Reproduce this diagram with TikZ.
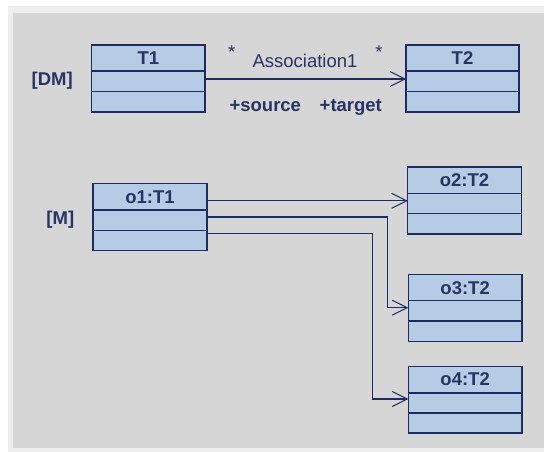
\documentclass[tikz,border=0pt]{standalone}
\usepackage{fontspec}
\setmainfont{Liberation Sans}
\usetikzlibrary{arrows.meta,fit}
\definecolor{navy}{HTML}{1E2B63}
\definecolor{txt}{HTML}{283366}
\definecolor{cellfill}{HTML}{B6CBE4}
\definecolor{panel}{HTML}{D6D6D6}
\definecolor{framecol}{HTML}{EEEEEE}
\tikzset{
  cls/.style={draw=navy, fill=cellfill, line width=1.4pt, inner sep=0pt, outer sep=0pt},
  divider/.style={draw=navy, line width=1.4pt},
  lbl/.style={text=txt, font=\fontsize{18.5}{20}\selectfont\bfseries, inner sep=0pt, anchor=base},
  plainlbl/.style={text=txt, font=\fontsize{18.5}{20}\selectfont, inner sep=0pt, anchor=base},
  conn/.style={draw=navy, line width=1.3pt,
    -{Straight Barb[length=15pt,width=15pt,line width=1pt]}},
}
% class box: name, x1, y1, x2, y2, first divider, second divider, title
\newcommand\umlclass[8]{%
  \node[cls, fit={(#2,#3) (#4,#5)}] (#1) {};
  \draw[divider] (#1.west |- 0,#6) -- (#1.east |- 0,#6);
  \draw[divider] (#1.west |- 0,#7) -- (#1.east |- 0,#7);
  \node[lbl] (#1-title) at ({(#2+#4)/2},{#3+19.6}) {#8};
}
\begin{document}
\begin{tikzpicture}[x=1pt,y=-1pt]
  \useasboundingbox (0,0) rectangle (544,452);
  \fill[white] (0,0) rectangle (544,452);
  \fill[framecol] (8,6) rectangle (544,452);
  \fill[panel] (13,13) rectangle (544,448);

  % type level
  \umlclass{T1}{91.7}{45}{205}{112}{71}{91.7}{T1}
  \umlclass{T2}{406}{45}{519}{112}{71}{91.7}{T2}
  \node[lbl] (dm) at (52.2,86) {[DM]};
  \draw[conn] (T1.east |- 0,79) -- (T2.west |- 0,79);
  \node[plainlbl] (m1) at (231.7,58.5) {*};
  \node[plainlbl] (m2) at (379,58.5) {*};
  \node[plainlbl] (assoc) at (305,67.5) {Association1};
  \node[lbl] (src) at (265.3,111) {+source};
  \node[lbl] (tgt) at (350.8,111) {+target};

  % instance level
  \umlclass{o1}{93}{183.7}{207}{250.3}{210}{230.3}{o1:T1}
  \umlclass{o2}{407.7}{167}{521.3}{234}{193.7}{213.7}{o2:T2}
  \umlclass{o3}{408.3}{274.7}{522}{341.3}{300.7}{321}{o3:T2}
  \umlclass{o4}{408.3}{366.3}{522}{433}{393}{413}{o4:T2}
  \node[lbl] (mlevel) at (60.3,224.5) {[M]};

  \draw[conn] (o1.east |- 0,200.8) -- (o2.west |- 0,200.8);
  \draw[conn] (o1.east |- 0,217) -| ([xshift=-21pt]o3.west |- 0,307.7) -- (o3.west |- 0,307.7);
  \draw[conn] (o1.east |- 0,233.7) -| ([xshift=-36pt]o4.west |- 0,399) -- (o4.west |- 0,399);
\end{tikzpicture}
\end{document}
